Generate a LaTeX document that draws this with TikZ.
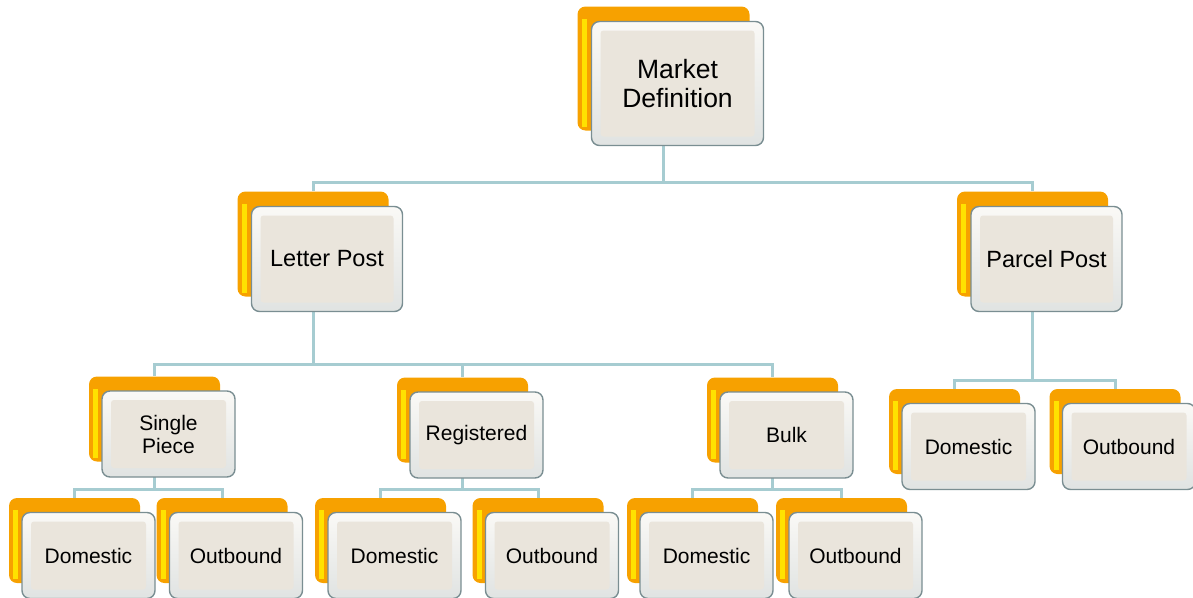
\documentclass[tikz,border=0pt]{standalone}
\usepackage{fontspec}
\setmainfont{Liberation Sans}
\usetikzlibrary{positioning}
\usetikzlibrary{calc}
\pgfdeclarelayer{treebg}
\pgfsetlayers{treebg,main}

\definecolor{boxorange}{RGB}{247,161,0}
\definecolor{boxyellow}{RGB}{255,226,0}
\definecolor{boxbeige}{RGB}{234,229,220}
\definecolor{bevellight}{RGB}{250,249,246}
\definecolor{beveldark}{RGB}{224,227,226}
\definecolor{boxedge}{RGB}{122,142,146}
\definecolor{linkblue}{RGB}{166,204,209}

\tikzset{
  frontbox/.style={draw=boxedge, line width=1.4pt, rounded corners=8pt,
    top color=bevellight, bottom color=beveldark, inner sep=0pt, align=center,
    minimum width=133pt, minimum height=86pt, font=\fontsize{21}{23}\selectfont,
    path picture={\fill[boxbeige, rounded corners=3pt] ([shift={(9pt,-9pt)}]path picture bounding box.north west)
      rectangle ([shift={(-9pt,9pt)}]path picture bounding box.south east);}},
  backbox/.style={fill=boxorange, rounded corners=8pt, inner sep=0pt,
    minimum width=131pt, minimum height=85pt,
    path picture={\fill[boxyellow, sharp corners] ([shift={(4pt,-12pt)}]path picture bounding box.north west)
      rectangle ([shift={(9pt,4pt)}]path picture bounding box.south west);}},
  toplevel/.style={minimum width=172pt, minimum height=124pt, font=\fontsize{26.5}{29}\selectfont},
  midlevel/.style={minimum width=151pt, minimum height=105pt, font=\fontsize{23.5}{26}\selectfont},
  link/.style={draw=linkblue, line width=3pt}
}

\begin{document}
\begin{tikzpicture}[x=1pt, y=-1pt]
  \useasboundingbox (0,0) rectangle (1193,597);

  % rows of the connectors
  \coordinate (row1) at (0,182);
  \coordinate (row2) at (0,364);
  \coordinate (row2pp) at (0,380);
  \coordinate (row3) at (0,489);

  % top
  \node[backbox, toplevel] (md-b) at (663.5,68.5) {};
  \node[frontbox, toplevel] (md) at ($(md-b)+(14,15)$) {Market\\Definition};

  % letter and parcel post
  \node[backbox, midlevel] (lp-b) at (313,244) {};
  \node[frontbox, midlevel] (lp) at ($(lp-b)+(14,15)$) {Letter Post};
  \node[backbox, midlevel] (pp-b) at (1032.5,244) {};
  \node[frontbox, midlevel] (pp) at ($(pp-b)+(14,15)$) {Parcel Post};

  % letter post products
  \node[backbox] (sp-b) at (154.5,419) {};
  \node[frontbox] (sp) at ($(sp-b)+(14,15)$) {Single\\Piece};
  \node[backbox] (reg-b) at (462.5,420) {};
  \node[frontbox] (reg) at ($(reg-b)+(14,15)$) {Registered};
  \node[backbox] (bulk-b) at (772.5,420) {};
  \node[frontbox] (bulk) at ($(bulk-b)+(14,15)$) {Bulk};

  % parcel post destinations
  \node[backbox] (ppdom-b) at (954.5,431.5) {};
  \node[frontbox] (ppdom) at ($(ppdom-b)+(14,15)$) {Domestic};
  \node[backbox] (ppout-b) at (1115,431.5) {};
  \node[frontbox] (ppout) at ($(ppout-b)+(14,15)$) {Outbound};

  % letter post destinations
  \node[backbox] (spdom-b) at (74.5,540.5) {};
  \node[frontbox] (spdom) at ($(spdom-b)+(14,15)$) {Domestic};
  \node[backbox] (spout-b) at (222,540.5) {};
  \node[frontbox] (spout) at ($(spout-b)+(14,15)$) {Outbound};
  \node[backbox] (regdom-b) at (380.5,540.5) {};
  \node[frontbox] (regdom) at ($(regdom-b)+(14,15)$) {Domestic};
  \node[backbox] (regout-b) at (538,540.5) {};
  \node[frontbox] (regout) at ($(regout-b)+(14,15)$) {Outbound};
  \node[backbox] (bulkdom-b) at (692.5,540.5) {};
  \node[frontbox] (bulkdom) at ($(bulkdom-b)+(14,15)$) {Domestic};
  \node[backbox] (bulkout-b) at (841.5,540.5) {};
  \node[frontbox] (bulkout) at ($(bulkout-b)+(14,15)$) {Outbound};

  % connectors go behind the boxes
  \begin{pgfonlayer}{treebg}
    \draw[link] (md-b.center) -- (md-b |- row1) -| (lp-b);
    \draw[link] (md-b |- row1) -| (pp-b);
    \draw[link] (lp-b.center) -- (lp-b |- row2) -| (sp-b);
    \draw[link] (lp-b |- row2) -| (reg-b);
    \draw[link] (lp-b |- row2) -| (bulk-b);
    \draw[link] (pp-b.center) -- (pp-b |- row2pp) -| (ppdom-b);
    \draw[link] (pp-b |- row2pp) -| (ppout-b);
    \draw[link] (sp-b.center) -- (sp-b |- row3) -| (spdom-b);
    \draw[link] (sp-b |- row3) -| (spout-b);
    \draw[link] (reg-b.center) -- (reg-b |- row3) -| (regdom-b);
    \draw[link] (reg-b |- row3) -| (regout-b);
    \draw[link] (bulk-b.center) -- (bulk-b |- row3) -| (bulkdom-b);
    \draw[link] (bulk-b |- row3) -| (bulkout-b);
  \end{pgfonlayer}
\end{tikzpicture}
\end{document}
